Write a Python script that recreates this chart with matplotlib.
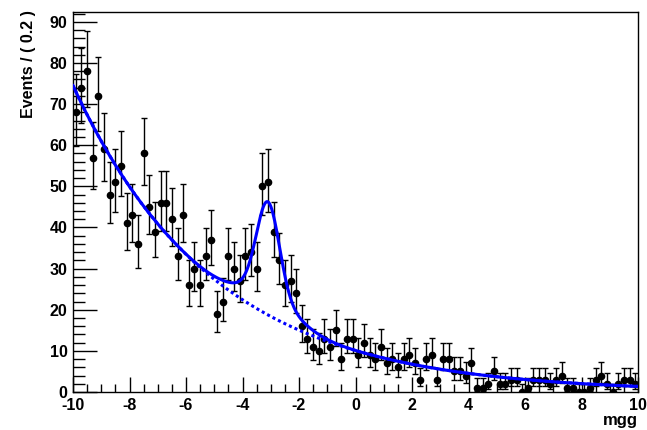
import numpy as np
import matplotlib
matplotlib.use('Agg')
import matplotlib.pyplot as plt
from matplotlib.ticker import MultipleLocator

# ---- data: 100 bins of width 0.2 on [-10, 10] ----
x_min, x_max, bin_width = -10.0, 10.0, 0.2
bin_centers = np.arange(x_min + bin_width / 2, x_max, bin_width)

counts = [
    68, 74, 78, 57, 72, 59, 48, 51, 55, 41,
    43, 36, 58, 45, 39, 46, 46, 42, 33, 43,
    26, 30, 26, 33, 37, 19, 22, 33, 30, 27,
    33, 34, 30, 50, 51, 39, 32, 26, 27, 24,
    16, 13, 11, 10, 13, 11, 15, 8, 13, 13,
    9, 12, 9, 8, 11, 7, 8, 6, 8, 9,
    7, 3, 8, 9, 3, 8, 8, 5, 5, 4,
    7, 1, 1, 2, 5, 2, 2, 3, 3, 0,
    1, 3, 3, 3, 2, 3, 4, 1, 1, 0,
    0, 1, 3, 4, 2, 0, 2, 3, 3, 2,
]

# ---- fitted model ----
bkg_norm = 74.5      # background at x = -10
bkg_slope = -0.2     # exponential slope
sig_mean = -3.1
core_height, core_sigma = 22.0, 0.40
tail_height, tail_sigma = 5.5, 0.95


def poisson_errors(n):
    '''
    Approximate 68% Poisson interval (Gehrels)
    '''
    n = np.asarray(n, dtype=float)
    upper = n + np.sqrt(n + 0.75) + 1.0
    lower = np.zeros_like(n)
    pos = n > 0
    lower[pos] = n[pos] * (1 - 1 / (9 * n[pos]) - 1 / (3 * np.sqrt(n[pos]))) ** 3
    return n - lower, upper - n


plt.rcParams['font.family'] = ['Liberation Sans', 'DejaVu Sans']
plt.rcParams['font.weight'] = 'bold'
plt.rcParams['axes.unicode_minus'] = False

fig = plt.figure(figsize=(6.47, 4.30), dpi=100)
ax = fig.add_axes([73 / 647, 1 - 392 / 430, (638 - 73) / 647, (392 - 12) / 430])

### data points
err_lo, err_hi = poisson_errors(counts)
ax.errorbar(bin_centers, counts, yerr=[err_lo, err_hi], fmt='o', color='black',
            markersize=4.5, elinewidth=1, capsize=2.5, capthick=1, zorder=2)

### model curves
xs = np.linspace(x_min, x_max, 1001)
bkg = bkg_norm * np.exp(bkg_slope * (xs - x_min))
sig = (core_height * np.exp(-0.5 * ((xs - sig_mean) / core_sigma) ** 2)
       + tail_height * np.exp(-0.5 * ((xs - sig_mean) / tail_sigma) ** 2))
ax.plot(xs, bkg + sig, color='#0000ff', lw=2.2, zorder=3)
ax.plot(xs, bkg, color='#0000ff', lw=2.2, linestyle=(0, (1, 1)), zorder=4)

### axes
ax.set_xlim(x_min, x_max)
ax.set_ylim(0, 92.4)
ax.xaxis.set_major_locator(MultipleLocator(2))
ax.xaxis.set_minor_locator(MultipleLocator(0.5))
ax.yaxis.set_major_locator(MultipleLocator(10))
ax.yaxis.set_minor_locator(MultipleLocator(2))
ax.tick_params(which='both', direction='in', top=False, right=False,
               labelsize=11.5, width=1)
ax.tick_params(axis='x', which='major', length=11, pad=4)
ax.tick_params(axis='x', which='minor', length=5.5)
ax.tick_params(axis='y', which='major', length=17, pad=4)
ax.tick_params(axis='y', which='minor', length=8.5)
for s in ax.spines.values():
    s.set_linewidth(1)

### titles
fig.text(28 / 647, 1 - 10 / 430, 'Events / ( 0.2 )', rotation=90,
         ha='center', va='top', fontsize=11.5, fontweight='bold')
fig.text(638 / 647, 1 - 425 / 430, 'mgg', ha='right', va='baseline',
         fontsize=12, fontweight='bold')

fig.savefig('out.png', dpi=100)
